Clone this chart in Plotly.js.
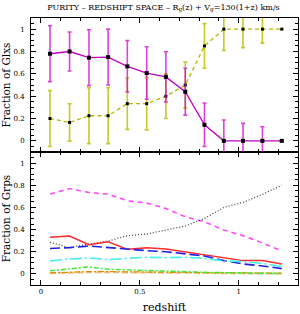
<!DOCTYPE html>
<html>
<head>
<meta charset="utf-8">
<script src="https://cdn.plot.ly/plotly-3.0.1.min.js"></script>
<style>html,body{margin:0;padding:0;background:#fff}#chart{width:300px;height:314px}</style>
</head>
<body>
<div id="chart"></div>
<script>
// redshift bin centres
const zBins = [0.046, 0.145, 0.243, 0.340, 0.437, 0.535, 0.632, 0.730, 0.827, 0.925, 1.022, 1.120, 1.218];

// top panel: fraction of galaxies
const glxPure = [0.78, 0.80, 0.745, 0.75, 0.667, 0.607, 0.573, 0.44, 0.144, 0, 0, 0, 0];
const glxPureErr = [0.25, 0.175, 0.25, 0.25, 0.23, 0.235, 0.225, 0.21, 0.195, 0.187, 0.157, 0.126, 0];
const glxOther = [0.20, 0.165, 0.225, 0.225, 0.333, 0.333, 0.40, 0.50, 0.85, 1, 1, 1, 1];
const glxOtherErr = [0.25, 0.167, 0.25, 0.25, 0.23, 0.235, 0.20, 0.205, 0.20, 0.19, 0.165, 0.125, 0];

// bottom panel: fraction of groups
const grpMagenta = [0.72, 0.77, 0.735, 0.72, 0.66, 0.64, 0.59, 0.516, 0.47, 0.396, 0.345, 0.28, 0.207];
const grpGray = [0.285, 0.237, 0.27, 0.297, 0.345, 0.36, 0.396, 0.432, 0.50, 0.60, 0.645, 0.718, 0.80];
const grpRed = [0.33, 0.342, 0.264, 0.29, 0.222, 0.237, 0.225, 0.198, 0.177, 0.147, 0.12, 0.12, 0.09];
const grpBlue = [0.23, 0.237, 0.252, 0.237, 0.228, 0.21, 0.20, 0.18, 0.162, 0.12, 0.09, 0.072, 0.048];
const grpCyan = [0.117, 0.135, 0.144, 0.129, 0.141, 0.15, 0.147, 0.15, 0.141, 0.117, 0.111, 0.096, 0.066];
const grpGreen = [0.027, 0.045, 0.063, 0.042, 0.036, 0.03, 0.021, 0.018, 0.015, 0.012, 0.009, 0.006, 0.003];
const grpOrange = [0.009, 0.018, 0.021, 0.021, 0.018, 0.015, 0.015, 0.012, 0.012, 0.009, 0.009, 0.006, 0.006];
const grpTan = [0.006, 0.012, 0.015, 0.015, 0.015, 0.012, 0.012, 0.009, 0.009, 0.006, 0.006, 0.003, 0.003];

const xTickVals = [0, 0.5, 1];
const xTickText = ['0', '0.5', '1'];
const yTickVals = [0, 0.2, 0.4, 0.6, 0.8, 1];
const yTickText = ['0', '0.2', '0.4', '0.6', '0.8', '1'];

const SERIF = 'DejaVu Serif, Liberation Serif, serif';

const traces = [
  {x: zBins, y: glxOther, xaxis: 'x2', yaxis: 'y2', mode: 'lines+markers', type: 'scatter',
   line: {color: '#b8b800', width: 1.3, dash: '4px,3px'},
   marker: {color: '#000', size: 3, symbol: 'square'},
   error_y: {type: 'data', array: glxOtherErr, visible: true, color: 'rgba(190,190,0,0.85)', thickness: 1.6, width: 2}},
  {x: zBins, y: glxPure, xaxis: 'x2', yaxis: 'y2', mode: 'lines+markers', type: 'scatter',
   line: {color: '#c000c0', width: 1.3},
   marker: {color: '#000', size: 4, symbol: 'square'},
   error_y: {type: 'data', array: glxPureErr, visible: true, color: 'rgba(210,0,210,0.75)', thickness: 1.6, width: 2}},

  {x: zBins, y: grpMagenta, xaxis: 'x', yaxis: 'y', mode: 'lines', type: 'scatter',
   line: {color: '#ff40ff', width: 1.5, dash: '5px,4px'}},
  {x: zBins, y: grpGray, xaxis: 'x', yaxis: 'y', mode: 'lines', type: 'scatter',
   line: {color: '#444', width: 1.3, dash: '1px,2px'}},
  {x: zBins, y: grpRed, xaxis: 'x', yaxis: 'y', mode: 'lines', type: 'scatter',
   line: {color: '#ff2a2a', width: 1.5}},
  {x: zBins, y: grpBlue, xaxis: 'x', yaxis: 'y', mode: 'lines', type: 'scatter',
   line: {color: '#2020e8', width: 1.6, dash: '10px,4px'}},
  {x: zBins, y: grpCyan, xaxis: 'x', yaxis: 'y', mode: 'lines', type: 'scatter',
   line: {color: '#40f0f0', width: 1.6, dash: '12px,3px,2px,3px'}},
  {x: zBins, y: grpTan, xaxis: 'x', yaxis: 'y', mode: 'lines', type: 'scatter',
   line: {color: '#e8c080', width: 2, dash: '6px,3px'}},
  {x: zBins, y: grpOrange, xaxis: 'x', yaxis: 'y', mode: 'lines', type: 'scatter',
   line: {color: '#e88a00', width: 1.2, dash: '6px,2px,2px,2px'}},
  {x: zBins, y: grpGreen, xaxis: 'x', yaxis: 'y', mode: 'lines', type: 'scatter',
   line: {color: '#30ee30', width: 1.4, dash: '5px,2px,2px,2px'}}
];

const commonX = {
  range: [-0.05, 1.3], tickmode: 'array', tickvals: xTickVals, ticktext: xTickText,
  ticks: 'inside', ticklen: 5, tickwidth: 1, tickcolor: '#000',
  minor: {dtick: 0.1, tick0: 0, ticks: 'inside', ticklen: 3, tickcolor: '#000', tickwidth: 1},
  showline: true, linecolor: '#000', linewidth: 1, mirror: 'allticks',
  showgrid: false, zeroline: false,
  tickfont: {family: SERIF, size: 7, color: '#000'}
};
const commonY = {
  range: [-0.1, 1.1], tickmode: 'array', tickvals: yTickVals, ticktext: yTickText,
  ticks: 'inside', ticklen: 5, tickwidth: 1, tickcolor: '#000',
  minor: {dtick: 0.05, tick0: 0, ticks: 'inside', ticklen: 3, tickcolor: '#000', tickwidth: 1},
  showline: true, linecolor: '#000', linewidth: 1, mirror: 'allticks',
  showgrid: false, zeroline: false,
  tickfont: {family: SERIF, size: 7, color: '#000'},
  ticklabelstandoff: 4
};

const layout = {
  width: 300, height: 314,
  margin: {l: 31, r: 2, t: 18, b: 29},
  paper_bgcolor: '#fff', plot_bgcolor: '#fff',
  showlegend: false,
  title: {text: 'PURITY – REDSHIFT SPACE – R<sub>g</sub>(z) + V<sub>g</sub>=130(1+z) km/s',
          font: {family: SERIF, size: 8, color: '#000'},
          x: 0.545, xanchor: 'center', y: 0.978, yanchor: 'middle'},
  xaxis: Object.assign({}, commonX, {anchor: 'y',
    title: {text: 'redshift', font: {family: SERIF, size: 11, color: '#000'}, standoff: 11}}),
  yaxis: Object.assign({}, commonY, {domain: [0, 0.498], anchor: 'x',
    title: {text: 'Fraction of Grps', font: {family: SERIF, size: 10.5, color: '#000'}, standoff: 5}}),
  xaxis2: Object.assign({}, commonX, {anchor: 'y2', matches: 'x', showticklabels: false}),
  yaxis2: Object.assign({}, commonY, {domain: [0.498, 1], anchor: 'x2',
    title: {text: 'Fraction of Glxs', font: {family: SERIF, size: 10.5, color: '#000'}, standoff: 5}})
};

Plotly.newPlot('chart', traces, layout, {displayModeBar: false, staticPlot: true});
</script>
</body>
</html>
